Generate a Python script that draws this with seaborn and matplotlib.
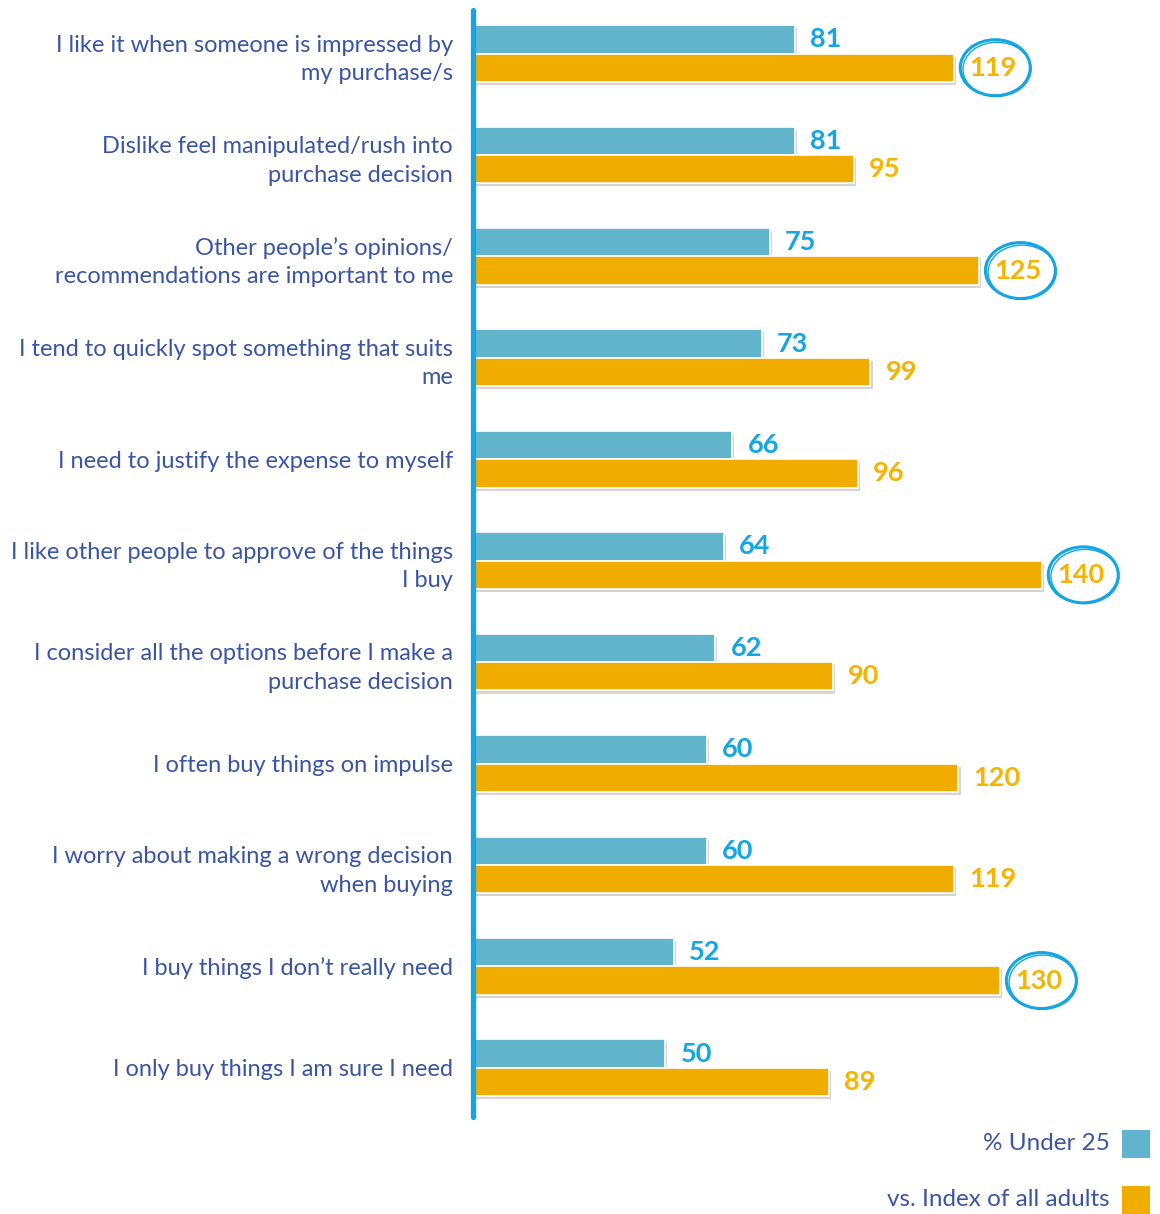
import numpy as np
import pandas as pd
import matplotlib
matplotlib.use("Agg")
import matplotlib.pyplot as plt
import seaborn as sns
from matplotlib.patches import Ellipse, Rectangle
import matplotlib.patheffects as pe

categories = [
    "I like it when someone is impressed by\nmy purchase/s",
    "Dislike feel manipulated/rush into\npurchase decision",
    "Other people\u2019s opinions/\nrecommendations are important to me",
    "I tend to quickly spot something that suits\nme",
    "I need to justify the expense to myself",
    "I like other people to approve of the things\nI buy",
    "I consider all the options before I make a\npurchase decision",
    "I often buy things on impulse",
    "I worry about making a wrong decision\nwhen buying",
    "I buy things I don\u2019t really need",
    "I only buy things I am sure I need",
]
under25 = [81, 81, 75, 73, 66, 64, 62, 60, 60, 52, 50]
index_all = [119, 95, 125, 99, 96, 140, 90, 120, 119, 130, 89]
series_names = ["% Under 25", "vs. Index of all adults"]
highlight = [True, False, True, False, False, True, False, False, False, True, False]

BLUE = "#62b4cc"
ORANGE = "#f0ad00"
LINE = "#14a5e3"
TEXT = "#3b55a5"
VAL_BLUE = "#14a5e3"
VAL_ORANGE = "#f5b400"

df = pd.DataFrame({
    "category": categories * 2,
    "series": [series_names[0]] * len(categories) + [series_names[1]] * len(categories),
    "value": under25 + index_all,
})

sns.set_theme(style="white")
plt.rcParams['font.family'] = ['Lato', 'DejaVu Sans']

W, H = 1160, 1214
fig = plt.figure(figsize=(W / 100, H / 100), dpi=100)
ax = fig.add_axes([473 / W, 1 - 1117 / H, 1 - 473 / W, (1117 - 10) / H])

sns.barplot(data=df, y="category", x="value", hue="series", orient="h",
            palette=[BLUE, ORANGE], width=0.56, saturation=1, legend=False,
            edgecolor="white", linewidth=1.2, ax=ax)

for p in ax.patches:
    p.set_path_effects([pe.SimplePatchShadow(offset=(1.5, -2.2), shadow_rgbFace="#888888", alpha=0.35),
                        pe.Normal()])

ax.set_xlim(4.15, 168.1)
ax.set_ylim(10.485, -0.429)
for s in ["top", "right", "bottom"]:
    ax.spines[s].set_visible(False)
ax.spines["left"].set_color(LINE)
ax.spines["left"].set_linewidth(3.8)
ax.spines["left"].set_capstyle("round")
ax.spines["left"].set_zorder(5)
ax.set_xticks([])
ax.set_xlabel("")
ax.set_ylabel("")
ax.tick_params(axis="y", length=0, pad=14.4, labelsize=17, labelcolor=TEXT)
for t in ax.get_yticklabels():
    t.set_ha("right")
    t.set_multialignment("right")
    t.set_linespacing(1.45)

ax.bar_label(ax.containers[0], padding=11, fontsize=19.5, fontweight="bold", color=VAL_BLUE)
ax.bar_label(ax.containers[1], padding=11, fontsize=19.5, fontweight="bold", color=VAL_ORANGE)

pxu = 4.19
for i, flag in enumerate(highlight):
    if flag:
        bar = ax.containers[1][i]
        yc = bar.get_y() + bar.get_height() / 2
        xc = index_all[i] + 41 / pxu
        ax.add_patch(Ellipse((xc, yc), 70 / pxu, 56 / 101.45, angle=0,
                             fill=False, edgecolor=LINE, linewidth=2.2, clip_on=False))
        ax.add_patch(Ellipse((xc + 0.4, yc + 0.015), 68 / pxu, 54 / 101.45, angle=0,
                             fill=False, edgecolor=LINE, linewidth=1.0, clip_on=False))

fig.text(1110 / W, 1 - 1143 / H, series_names[0], ha="right", va="center", color=TEXT, fontsize=17.5)
fig.text(1110 / W, 1 - 1200 / H, series_names[1], ha="right", va="center", color=TEXT, fontsize=17.5)
fig.add_artist(Rectangle((1122 / W, 1 - 1158 / H), 28 / W, 28 / H, transform=fig.transFigure,
                         facecolor=BLUE, edgecolor="none"))
fig.add_artist(Rectangle((1122 / W, 1 - 1214 / H), 28 / W, 28 / H, transform=fig.transFigure,
                         facecolor=ORANGE, edgecolor="none"))

fig.savefig("out.png", dpi=100)
